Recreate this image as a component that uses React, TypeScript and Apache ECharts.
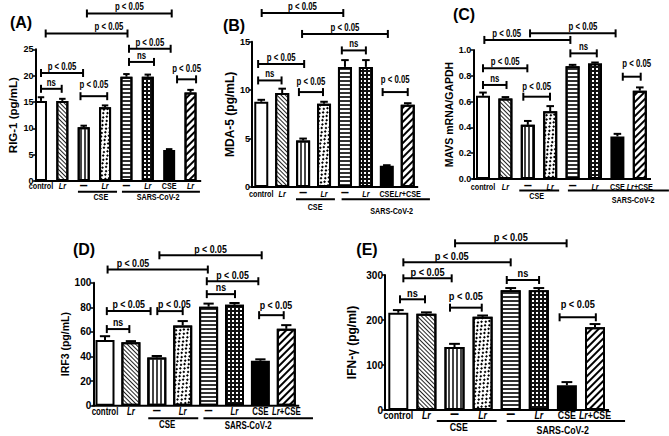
import React, { useEffect, useRef } from 'react';
import * as echarts from 'echarts';

// ---------- data ----------
const labelsA = ['control', 'Lr', '—', 'Lr', '—', 'Lr', 'CSE', 'Lr'];
const labelsB = ['control', 'Lr', '—', 'Lr', '—', 'Lr', 'CSE', 'Lr+CSE'];

const valuesA = [15.2, 15.2, 10.2, 14.0, 19.8, 19.8, 5.9, 16.8];
const errorsA = [0.7, 0.4, 0.3, 0.35, 0.5, 0.4, 0.15, 0.5];

const valuesB = [8.8, 9.7, 4.8, 8.6, 12.4, 12.4, 2.2, 8.5];
const errorsB = [0.2, 0.45, 0.2, 0.2, 0.7, 0.7, 0.05, 0.15];

const valuesC = [0.645, 0.625, 0.42, 0.525, 0.875, 0.895, 0.33, 0.685];
const errorsC = [0.025, 0.01, 0.03, 0.04, 0.01, 0.008, 0.02, 0.025];

const valuesD = [53.5, 51.5, 39.2, 65.3, 80.5, 82, 36.5, 62.5];
const errorsD = [3, 1, 1.2, 3.5, 2.5, 1.5, 1.2, 3];

const valuesE = [216, 214, 140, 207, 266, 266, 55, 184];
const errorsE = [6, 3, 7, 3, 5, 5, 7, 7];

// significance brackets: [from, to, level, text, textAt?, textLevel?]
const bracketsA: any[] = [
  [0, 0.97, 17.5, 'ns'],
  [0, 1.97, 20.5, 'p < 0.05'],
  [1.85, 3.1, 16.1, 'p < 0.05', null, 18.2],
  [0.22, 4.05, 28.0, 'p < 0.05', 3.18],
  [2.15, 6.12, 31.8, 'p < 0.05'],
  [4.12, 6.07, 25.1, 'p < 0.05'],
  [4.12, 5.29, 22.6, 'ns'],
  [6.37, 7.26, 19.3, 'p < 0.05', null, 21.3],
];
const bracketsB: any[] = [
  [0.02, 3.92, 17.96, 'p < 0.05'],
  [1.95, 6.05, 15.8, 'p < 0.05'],
  [3.85, 5.0, 14.1, 'ns'],
  [-0.15, 2.05, 12.7, 'p < 0.05'],
  [-0.15, 0.97, 11.0, 'ns'],
  [1.8, 2.95, 9.8, 'p < 0.05', null, 10.9],
  [5.8, 7.0, 9.8, 'p < 0.05', null, 11.07],
];
const bracketsC: any[] = [
  [2.1, 5.92, 1.129, 'p < 0.05', 4.46],
  [0.06, 3.9, 1.078, 'p < 0.05', 1.06],
  [3.9, 5.08, 0.974, 'ns'],
  [0, 1.98, 0.858, 'p < 0.05'],
  [0, 1.05, 0.729, 'ns'],
  [1.8, 2.99, 0.638, 'p < 0.05', null, 0.716],
  [6.24, 7.04, 0.793, 'p < 0.05', 6.86, 0.897],
];
const bracketsD: any[] = [
  [2.1, 6.05, 122.3, 'p < 0.05'],
  [0.1, 3.97, 110.7, 'p < 0.05', 1.08],
  [3.93, 5.92, 101.2, 'p < 0.05'],
  [3.93, 5.02, 90.7, 'ns'],
  [0.07, 1.76, 76.9, 'p < 0.05'],
  [0.07, 0.94, 62.3, 'ns'],
  [2.02, 3.0, 76.9, 'p < 0.05', 2.68],
  [5.95, 6.9, 73.6, 'p < 0.05', 6.6, 82],
];
const bracketsE: any[] = [
  [2.02, 5.99, 370.4, 'p < 0.05'],
  [0.18, 4.0, 328.1, 'p < 0.05', 1.9],
  [0.18, 1.9, 292.6, 'p < 0.05'],
  [3.86, 5.01, 288.9, 'ns'],
  [0.06, 0.95, 246, 'ns'],
  [1.84, 2.97, 227.4, 'p < 0.05', null, 251.8],
  [5.74, 7.03, 206, 'p < 0.05', null, 235.6],
];

// group underlines: [text, from, to, textAt]
const groupsA: any[] = [['CSE', 1.73, 3.56, 2.8], ['SARS-CoV-2', 3.79, 7.44, 5.48]];
const groupsB: any[] = [['CSE', 1.66, 3.52, 2.57], ['SARS-CoV-2', 3.84, 8.06, 6.23]];
const groupsC: any[] = [['CSE', 1.62, 3.4, 2.4], ['SARS-CoV-2', 3.79, 8.3, 6.7]];
const groupsD: any[] = [['CSE', 1.67, 3.6, 2.4], ['SARS-CoV-2', 3.8, 8.03, 5.53]];
const groupsE: any[] = [['CSE', 1.37, 3.5, 2.15], ['SARS-CoV-2', 3.86, 8.07, 5.85]];

// ---------- styles ----------
const FONT = "'Liberation Sans',Arial,Helvetica,sans-serif";

const patterns: any[] = [
  { color: '#ffffff' },
  {
    color: '#ffffff',
    decal: { symbol: 'rect', symbolSize: 1, color: '#222', dashArrayX: [1, 0], dashArrayY: [1, 1.1], rotation: Math.PI / 4 },
  },
  {
    color: '#ffffff',
    decal: { symbol: 'rect', symbolSize: 1, color: '#444', dashArrayX: [1.3, 1.3], dashArrayY: [1, 0], rotation: 0 },
  },
  {
    color: '#ffffff',
    decal: { symbol: 'rect', symbolSize: 1, color: '#000', dashArrayX: [[1.6, 2.4], [0, 2, 1.6, 0.4]], dashArrayY: [1.6, 0.4], rotation: Math.PI / 4 },
  },
  {
    color: '#ffffff',
    decal: { symbol: 'rect', symbolSize: 1, color: '#333', dashArrayX: [1, 0], dashArrayY: [1.3, 1.3], rotation: 0 },
  },
  {
    color: '#111111',
    decal: { symbol: 'rect', symbolSize: 1, color: '#ffffff', dashArrayX: [1.4, 1.3], dashArrayY: [1.4, 1.3], rotation: 0 },
  },
  { color: '#000000' },
  {
    color: '#ffffff',
    decal: { symbol: 'rect', symbolSize: 1, color: '#000', dashArrayX: [1, 0], dashArrayY: [2, 2.4], rotation: -Math.PI / 4 },
  },
];

const panels = [
  {
    title: '(A)', tx: 21, ty: 22.5, labels: labelsA, values: valuesA, errors: errorsA, brackets: bracketsA, groups: groupsA,
    left: 30.3, top: 49.3, width: 170.9, height: 131.7, shift: 5.2, max: 25, interval: 5, decimals: 0,
    barWidth: 12, name: 'RIG-1 (pg/mL)', nameFs: 11.5, nameGap: 17, fs: 9,
    lfs: 9.5, lsx: 0.76, bfs: 10, bsx: 0.78, labelDy: 5, lineDy: 10.7, cseDy: 16, sarsDy: 16,
  },
  {
    title: '(B)', tx: 234, ty: 25, labels: labelsB, values: valuesB, errors: errorsB, brackets: bracketsB, groups: groupsB,
    left: 250.8, top: 41.7, width: 167.4, height: 145.3, shift: 1.2, max: 15, interval: 5, decimals: 0,
    barWidth: 14, name: 'MDA-5 (pg/mL)', nameFs: 12, nameGap: 13.5, fs: 9,
    lfs: 9.5, lsx: 0.76, bfs: 10, bsx: 0.78, labelDy: 6.3, lineDy: 12.3, cseDy: 19.7, sarsDy: 24,
  },
  {
    title: '(C)', tx: 464, ty: 14, labels: labelsB, values: valuesC, errors: errorsC, brackets: bracketsC, groups: groupsC,
    left: 471.8, top: 50, width: 179.2, height: 129, shift: 1.5, max: 1.0, interval: 0.2, decimals: 1,
    barWidth: 14, name: 'MAVS mRNA/GAPDH', nameFs: 10.5, nameGap: 18.5, fs: 9,
    lfs: 9.5, lsx: 0.76, bfs: 10, bsx: 0.78, labelDy: 7.3, lineDy: 11.5, cseDy: 17, sarsDy: 21,
  },
  {
    title: '(D)', tx: 84, ty: 249, labels: labelsB, values: valuesD, errors: errorsD, brackets: bracketsD, groups: groupsD,
    left: 92.05, top: 282.7, width: 207.2, height: 123, shift: 1.25, max: 100, interval: 20, decimals: 0,
    barWidth: 19, name: 'IRF3 (pg/mL)', nameFs: 10.5, nameGap: 21.3, fs: 10,
    lfs: 10, lsx: 0.79, bfs: 10.5, bsx: 0.84, labelDy: 6, lineDy: 12.6, cseDy: 19.3, sarsDy: 20.3,
  },
  {
    title: '(E)', tx: 367, ty: 249, labels: labelsB, values: valuesE, errors: errorsE, brackets: bracketsE, groups: groupsE,
    left: 384.25, top: 275, width: 224.8, height: 135, shift: 0.75, max: 300, interval: 100, decimals: 0,
    barWidth: 20, name: 'IFN-γ (pg/ml)', nameFs: 12, nameGap: 27.3, fs: 10,
    lfs: 11, lsx: 0.8, bfs: 11, bsx: 0.84, labelDy: 5, lineDy: 11, cseDy: 16.7, sarsDy: 20,
  },
];

function fmtLabel(v: string) {
  if (v === 'Lr') return '{i|Lr}';
  if (v === 'Lr+CSE') return '{i|Lr}+CSE';
  return v;
}

function buildOption() {
  const grid: any[] = [];
  const xAxis: any[] = [];
  const yAxis: any[] = [];
  const series: any[] = [];
  const graphic: any[] = [];

  panels.forEach((p, k) => {
    grid.push({ left: p.left, top: p.top, width: p.width, height: p.height });
    const txt = { fontFamily: FONT, fontWeight: 'bold', color: '#000' };
    xAxis.push({
      type: 'category', gridIndex: k, data: p.labels,
      axisLine: { show: false }, axisTick: { show: false }, axisLabel: { show: false },
    });
    yAxis.push({
      type: 'value', gridIndex: k, min: 0, max: p.max, interval: p.interval, offset: -p.shift,
      axisLine: { show: true, lineStyle: { color: '#000', width: 2 } },
      axisTick: { show: true, length: 3, lineStyle: { color: '#000', width: 1.5 } },
      splitLine: { show: false },
      axisLabel: { margin: 2, fontSize: p.fs, ...txt, formatter: (v: number) => v.toFixed(p.decimals) },
      name: p.name, nameLocation: 'middle', nameGap: p.nameGap,
      nameTextStyle: { fontSize: p.nameFs, ...txt },
    });
    series.push({
      type: 'bar', xAxisIndex: k, yAxisIndex: k, barWidth: p.barWidth,
      data: p.values.map((v, i) => ({
        value: v,
        itemStyle: { color: patterns[i].color, decal: patterns[i].decal || null, borderColor: '#000', borderWidth: 2 },
      })),
      z: 2,
    });
    series.push({
      type: 'custom', xAxisIndex: k, yAxisIndex: k, silent: true, z: 3,
      data: p.values.map((v, i) => [i, v, p.errors[i]]),
      renderItem: (params: any, api: any) => {
        const x = api.value(0), v = api.value(1), e = api.value(2);
        const base = api.coord([x, v]);
        const top = api.coord([x, v + e]);
        const hw = p.barWidth * 0.27;
        const st = { stroke: '#000', lineWidth: 2 };
        return {
          type: 'group',
          children: [
            { type: 'line', shape: { x1: base[0], y1: base[1], x2: base[0], y2: top[1] }, style: st },
            { type: 'line', shape: { x1: base[0] - hw, y1: top[1], x2: base[0] + hw, y2: top[1] }, style: st },
          ],
        };
      },
    });
    series.push({
      type: 'custom', xAxisIndex: k, yAxisIndex: k, silent: true, z: 4, clip: false,
      data: [[0, 0]],
      renderItem: (params: any, api: any) => {
        const a = api.coord([0, 0]);
        const b = api.coord([1, 0]);
        const step = b[0] - a[0];
        const X = (i: number) => a[0] + step * i;
        const Y = (v: number) => api.coord([0, v])[1];
        const y0 = a[1];
        const ls = { stroke: '#000', lineWidth: 2 };
        const ts = (t: string, fs: number) => ({
          text: t, fill: '#000', fontSize: fs, fontWeight: 'bold', fontFamily: FONT, align: 'center', verticalAlign: 'middle',
          rich: { i: { fontStyle: 'italic', fontWeight: 'bold', fontSize: fs, fontFamily: FONT, fill: '#000' } },
        });
        const ch: any[] = [];
        ch.push({ type: 'line', shape: { x1: X(-0.5) + p.shift - 1, y1: y0, x2: X(7.5), y2: y0 }, style: ls });
        // category labels
        p.labels.forEach((l: string, i: number) => {
          const dash = l === '—';
          ch.push({
            type: 'text', x: X(i), y: y0 + p.labelDy - (dash ? 1.5 : 0), scaleX: dash ? 0.5 : p.lsx,
            style: ts(fmtLabel(l), dash ? p.lfs + 5 : p.lfs),
          });
        });
        p.brackets.forEach((br: any[]) => {
          const [f, t, lv, text, tAt, tLv] = br;
          const y = Y(lv), xa = X(f), xb = X(t);
          const tk = 4;
          ch.push({ type: 'line', shape: { x1: xa, y1: y, x2: xb, y2: y }, style: ls });
          ch.push({ type: 'line', shape: { x1: xa, y1: y - tk, x2: xa, y2: y + tk }, style: ls });
          ch.push({ type: 'line', shape: { x1: xb, y1: y - tk, x2: xb, y2: y + tk }, style: ls });
          const tx = tAt == null ? (xa + xb) / 2 : X(tAt);
          const ty = tLv == null ? y - 6.5 : Y(tLv);
          ch.push({ type: 'text', x: tx, y: ty, scaleX: p.bsx, style: ts(text, p.bfs) });
        });
        p.groups.forEach((g: any[], gi: number) => {
          const [text, f, t, at] = g;
          ch.push({ type: 'line', shape: { x1: X(f), y1: y0 + p.lineDy, x2: X(t), y2: y0 + p.lineDy }, style: ls });
          ch.push({ type: 'text', x: X(at), y: y0 + (gi === 0 ? p.cseDy : p.sarsDy), scaleX: p.lsx, style: ts(text, p.lfs) });
        });
        return { type: 'group', children: ch };
      },
    });
    graphic.push({
      type: 'text', x: p.tx, y: p.ty,
      style: { text: p.title, fill: '#000', fontSize: 16, fontWeight: 'bold', fontFamily: FONT, align: 'center', verticalAlign: 'middle' },
    });
  });

  return { animation: false, backgroundColor: '#ffffff', grid, xAxis, yAxis, series, graphic };
}

export default function App() {
  const ref = useRef<HTMLDivElement>(null);
  useEffect(() => {
    if (!ref.current) return;
    const chart = echarts.init(ref.current, null, { renderer: 'svg' });
    chart.setOption(buildOption() as any);
    return () => chart.dispose();
  }, []);
  return <div ref={ref} style={{ position: 'fixed', left: 0, top: 0, width: 669, height: 436, background: '#fff' }} />;
}
